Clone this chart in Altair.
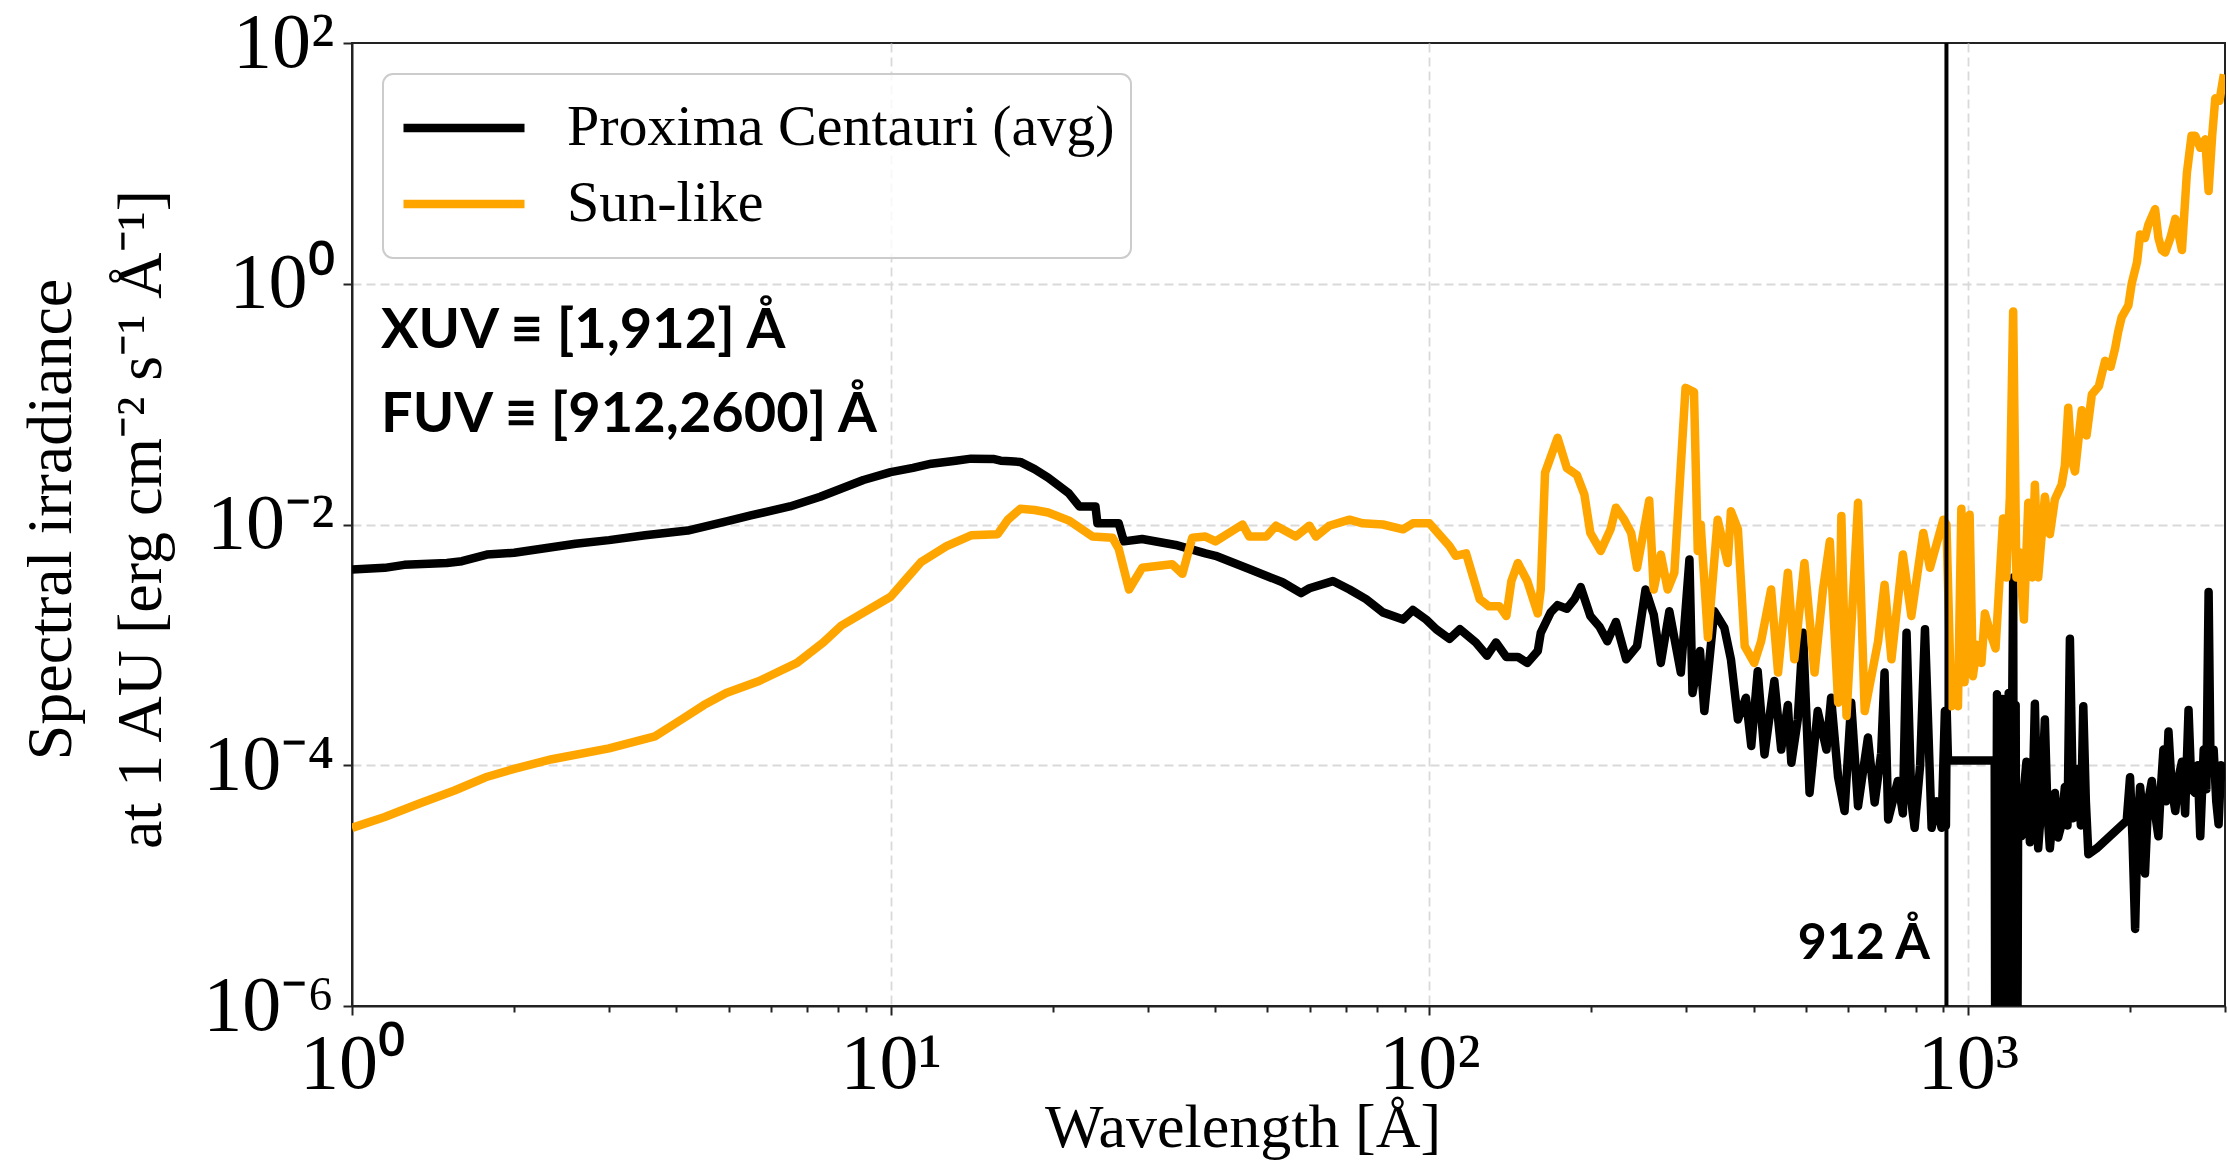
import altair as alt
import pandas as pd

# ---------------- data ----------------
series_names = ["Proxima Centauri (avg)", "Sun-like"]
series_colors = ["#000000", "#FFA500"]

proxima_wavelength = [
    1.0, 1.15, 1.25, 1.5, 1.6, 1.78, 2.0, 2.6, 3.0, 3.5, 4.2, 5.0, 5.5, 6.5, 7.4, 8.9, 10, 11, 11.9, 13.2,
    14.1, 15.5, 16.0, 16.7, 17.4, 18.5, 19.6, 21.4, 22.4, 24.0, 24.2, 26.5, 27.1, 29.3, 33.8, 38.4, 40.1,
    46.3, 53.4, 57.8, 59.9, 66.2, 71.1, 76.3, 82, 89.4, 93.2, 98.7, 103, 109, 114, 122, 128, 133, 139, 146,
    152, 159, 161, 168, 173, 180, 186, 191, 199, 207, 214, 222, 232, 243, 252, 261, 269, 279, 293, 304, 308,
    318, 324, 338, 353, 363, 374, 387, 396, 407, 419, 437, 450, 463, 470, 483, 494, 508, 526, 546, 557, 574,
    590, 607, 625, 652, 671, 690, 700, 711, 741, 757, 769, 785, 796, 815, 832, 856, 875, 893, 906, 910,
    913, 918, 1121, 1125, 1132, 1138, 1145, 1152, 1160, 1167, 1175, 1182, 1190, 1200, 1208, 1213, 1219,
    1226, 1232, 1239, 1256, 1270, 1284, 1303, 1318, 1331, 1350, 1370, 1389, 1405, 1419, 1450, 1470, 1492,
    1513, 1530, 1546, 1568, 1585, 1603, 1620, 1637, 1655, 1673, 1734, 1971, 1999, 2020, 2043, 2065, 2087,
    2110, 2131, 2160, 2194, 2225, 2257, 2280, 2306, 2330, 2356, 2390, 2426, 2460, 2496, 2530, 2567, 2600,
    2641, 2670, 2699, 2739, 2770, 2797, 2820, 2858, 2890, 2919, 2950, 2986,
]
proxima_log10_flux = [
    -2.374, -2.36, -2.335, -2.32, -2.305, -2.25, -2.235, -2.16, -2.13, -2.09, -2.05, -1.97, -1.925, -1.85,
    -1.77, -1.63, -1.565, -1.53, -1.495, -1.47, -1.453, -1.455, -1.47, -1.475, -1.48, -1.54, -1.61, -1.74,
    -1.85, -1.85, -1.99, -1.99, -2.14, -2.12, -2.17, -2.24, -2.26, -2.37, -2.48, -2.57, -2.53, -2.47, -2.54,
    -2.62, -2.73, -2.79, -2.71, -2.79, -2.87, -2.95, -2.87, -2.98, -3.09, -2.98, -3.10, -3.10, -3.15, -3.05,
    -2.90, -2.73, -2.67, -2.70, -2.62, -2.52, -2.76, -2.85, -2.97, -2.81, -3.12, -3.01, -2.54, -2.75, -3.15,
    -2.72, -3.23, -2.29, -3.40, -3.05, -3.55, -2.72, -2.86, -3.12, -3.62, -3.44, -3.84, -3.22, -3.91, -3.30,
    -3.87, -3.50, -3.98, -3.62, -2.90, -4.23, -3.55, -3.87, -3.44, -4.10, -4.38, -3.48, -4.34, -3.77, -4.31,
    -3.90, -3.23, -4.45, -4.13, -4.40, -2.90, -4.30, -4.52, -4.00, -2.87, -4.52, -4.30, -4.52, -3.55, -4.50,
    -3.55, -3.96, -3.96, -8.0, -3.41, -8.0, -3.50, -8.0, -3.45, -8.0, -3.45, -8.0, -3.40, -8.0, -3.50, -2.44,
    -8.0, -3.50, -8.0, -4.38, -4.59, -4.20, -3.97, -4.64, -4.30, -3.49, -4.69, -4.30, -3.62, -4.40, -4.69,
    -4.23, -4.60, -4.49, -4.18, -4.50, -2.95, -4.44, -4.20, -4.03, -4.50, -3.51, -4.30, -4.74, -4.69, -4.46,
    -4.10, -4.60, -5.36, -4.50, -4.18, -4.40, -4.90, -4.30, -4.13, -4.40, -4.59, -4.20, -3.87, -4.30, -3.72,
    -4.20, -4.38, -4.10, -3.97, -4.40, -3.54, -4.20, -4.23, -4.00, -4.59, -3.87, -4.20, -2.56, -4.00, -3.87,
    -4.30, -4.49, -4.00, -4.13,
]

sun_wavelength = [
    1.0, 1.15, 1.33, 1.55, 1.77, 2.0, 2.35, 3.0, 3.65, 4.09, 4.5, 4.95, 5.7, 6.7, 7.5, 8.1, 9.0, 10, 10.7,
    11.4, 12.7, 14.1, 15.8, 16.5, 17.4, 18.5, 19.6, 21.5, 23.7, 25.8, 26.5, 27.7, 29.3, 33.3, 34.8, 36.3,
    38.4, 40.1, 45.0, 46.3, 49.8, 51.9, 56.5, 59.9, 61.6, 65.2, 71.1, 75.2, 82, 89.4, 93.2, 100, 109, 112,
    117, 124, 129, 135, 139, 142, 146, 152, 159, 161, 164, 173, 180, 188, 194, 199, 208, 217, 222, 230, 237,
    243, 256, 261, 269, 277, 285, 299, 310, 315, 319, 329, 343, 358, 363, 374, 385, 401, 413, 431, 444, 463,
    476, 497, 519, 538, 554, 574, 582, 595, 625, 643, 681, 700, 721, 757, 785, 826, 850, 900, 912, 931, 952,
    958, 972, 985, 1007, 1021, 1040, 1059, 1075, 1100, 1125, 1140, 1162, 1178, 1196, 1213, 1230, 1245, 1270,
    1294, 1315, 1331, 1350, 1389, 1419, 1450, 1492, 1513, 1535, 1557, 1580, 1626, 1660, 1698, 1750, 1797,
    1840, 1875, 1900, 1928, 1985, 2013, 2060, 2087, 2131, 2162, 2225, 2257, 2290, 2323, 2375, 2426, 2496,
    2549, 2600, 2641, 2699, 2757, 2797, 2840, 2878, 2930, 2986,
]
sun_log10_flux = [
    -4.52, -4.43, -4.32, -4.21, -4.10, -4.03, -3.95, -3.86, -3.76, -3.62, -3.50, -3.40, -3.30, -3.15, -2.98,
    -2.84, -2.72, -2.60, -2.45, -2.31, -2.18, -2.09, -2.08, -1.96, -1.87, -1.88, -1.90, -1.97, -2.10, -2.11,
    -2.20, -2.54, -2.36, -2.33, -2.41, -2.11, -2.10, -2.14, -2.00, -2.10, -2.10, -2.01, -2.10, -2.01, -2.10,
    -2.01, -1.96, -1.99, -2.00, -2.04, -1.99, -1.99, -2.18, -2.26, -2.24, -2.62, -2.68, -2.68, -2.76, -2.47,
    -2.32, -2.47, -2.74, -2.54, -1.57, -1.28, -1.53, -1.59, -1.75, -2.07, -2.22, -2.04, -1.86, -1.96, -2.07,
    -2.36, -1.80, -2.54, -2.25, -2.54, -2.40, -0.865, -0.90, -2.22, -2.00, -2.94, -1.96, -2.32, -1.89, -2.04,
    -3.01, -3.15, -2.97, -2.54, -3.23, -2.40, -3.12, -2.32, -3.23, -2.54, -2.14, -3.48, -1.93, -3.59, -1.82,
    -3.55, -2.97, -2.50, -3.12, -2.25, -2.76, -2.07, -2.36, -1.96, -2.00, -3.51, -3.37, -3.51, -1.87, -3.31,
    -1.92, -3.26, -3.00, -3.15, -2.74, -2.90, -3.03, -2.59, -1.95, -2.44, -1.77, -0.23, -2.44, -2.23, -2.79,
    -1.82, -2.44, -1.67, -2.44, -1.77, -2.08, -1.79, -1.67, -1.51, -1.03, -1.46, -1.56, -1.05, -1.26, -0.92,
    -0.85, -0.64, -0.69, -0.54, -0.40, -0.28, -0.18, 0.00, 0.18, 0.41, 0.38, 0.49, 0.62, 0.38, 0.28, 0.26,
    0.38, 0.54, 0.28, 0.92, 1.23, 1.23, 1.13, 1.20, 0.77, 1.23, 1.54, 1.52, 1.74,
]

lyman_limit = [912]
lyman_label = ["912 Å"]
band_labels = ["XUV ≡ [1,912] Å", "FUV ≡ [912,2600] Å"]
x_title = ["Wavelength [Å]"]
y_title = ["Spectral irradiance", "at 1 AU [erg cm⁻² s⁻¹ Å⁻¹]"]

x_domain = [1, 3000]
y_domain = [1e-6, 1e2]
x_major = [1, 10, 100, 1000]
x_major_labels = ["10⁰", "10¹", "10²", "10³"]
x_ticks = [m * 10 ** e for e in range(4) for m in range(1, 10) if m * 10 ** e <= 3000]
y_major = [1e-6, 1e-4, 1e-2, 1, 1e2]
y_major_exp = [-6, -4, -2, 0, 2]
y_major_labels = ["10⁻⁶", "10⁻⁴", "10⁻²", "10⁰", "10²"]
y_grid_exp = [-4, -2, 0]

# ---------------- tables ----------------
rows = []
for w, f in zip(proxima_wavelength, proxima_log10_flux):
    rows.append({"wavelength": w, "flux": 10.0 ** f, "series": series_names[0]})
for w, f in zip(sun_wavelength, sun_log10_flux):
    rows.append({"wavelength": w, "flux": 10.0 ** f, "series": series_names[1]})
df = pd.DataFrame(rows)

x_label_expr = " : ".join(
    f"datum.value == {v} ? '{l}'" for v, l in zip(x_major, x_major_labels)
) + " : ''"
y_label_expr = " : ".join(
    f"abs(log(datum.value)/LN10 - ({e})) < 0.01 ? '{l}'" for e, l in zip(y_major_exp, y_major_labels)
) + " : ''"
major_test = "indexof([" + ",".join(str(v) for v in x_major) + "], datum.value) >= 0"
grid_test = "indexof([" + ",".join(str(v) for v in x_major[1:]) + "], datum.value) >= 0"
y_grid_test = " || ".join(f"abs(log(datum.value)/LN10 - ({e})) < 0.01" for e in y_grid_exp)

SERIF = "Liberation Serif"
SANS = "Lato"

x_enc = alt.X(
    "wavelength:Q",
    scale=alt.Scale(type="log", domain=x_domain, nice=False),
    axis=alt.Axis(
        values=x_ticks,
        labelExpr=x_label_expr,
        tickSize={"condition": {"test": major_test, "value": 9}, "value": 6},
        gridOpacity={"condition": {"test": grid_test, "value": 1}, "value": 0},
        labelFontSize=78,
        labelPadding=10,
        labelOverlap=False,
        labelFlush=False,
        title=None,
    ),
)
y_enc = alt.Y(
    "flux:Q",
    scale=alt.Scale(type="log", domain=y_domain, nice=False),
    axis=alt.Axis(
        values=y_major,
        labelExpr=y_label_expr,
        tickSize=9,
        gridOpacity={"condition": {"test": y_grid_test, "value": 1}, "value": 0},
        labelFontSize=78,
        labelPadding=9,
        labelOverlap=False,
        labelFlush=False,
        title=y_title,
        titleFontSize=64,
        titleLineHeight=90,
        titleX=-282,
        titleY=476,
        titleAngle=270,
        titleAlign="center",
        titleBaseline="alphabetic",
    ),
)

lines = alt.Chart(df).mark_line(clip=True, strokeJoin="round").encode(
    x=x_enc,
    y=y_enc,
    strokeWidth=alt.value(8.5),
    color=alt.Color(
        "series:N",
        scale=alt.Scale(domain=series_names, range=series_colors),
        legend=alt.Legend(
            title=None,
            orient="none",
            legendX=31,
            legendY=31,
            symbolType="stroke",
            symbolSize=14641,
            symbolStrokeWidth=8.5,
            labelFont=SERIF,
            labelFontSize=58,
            labelOffset=38,
            labelLimit=1000,
            labelBaseline="middle",
            labelColor="black",
            padding=16,
            rowPadding=0,
            clipHeight=76,
            fillColor="rgba(255,255,255,0.8)",
            strokeColor="#cccccc",
            cornerRadius=10,
        ),
    ),
    order="wavelength:Q",
)

limit_rule = alt.Chart(pd.DataFrame({"wavelength": lyman_limit})).mark_rule(
    color="black", strokeWidth=4
).encode(x=alt.X("wavelength:Q"))

limit_text = alt.Chart(pd.DataFrame({"label": lyman_label})).mark_text(
    font=SANS, fontWeight="bold", fontSize=50, align="right", baseline="alphabetic", color="black"
).encode(text="label:N", x=alt.value(1578), y=alt.value(916))

xuv_text = alt.Chart(pd.DataFrame({"label": band_labels[:1]})).mark_text(
    font=SANS, fontWeight="bold", fontSize=56, align="left", baseline="alphabetic", color="black"
).encode(text="label:N", x=alt.value(29), y=alt.value(305))

fuv_text = alt.Chart(pd.DataFrame({"label": band_labels[1:]})).mark_text(
    font=SANS, fontWeight="bold", fontSize=56, align="left", baseline="alphabetic", color="black"
).encode(text="label:N", x=alt.value(29), y=alt.value(389))

x_title_text = alt.Chart(pd.DataFrame({"label": x_title})).mark_text(
    font=SERIF, fontSize=62, align="center", baseline="alphabetic", color="black"
).encode(text="label:N", x=alt.value(891), y=alt.value(1104))

chart = (
    alt.layer(lines, limit_rule, limit_text, xuv_text, fuv_text, x_title_text)
    .properties(
        width=1873,
        height=963,
        autosize=alt.AutoSizeParams(type="none"),
        padding={"left": 352, "top": 43, "right": 3, "bottom": 162},
        background="white",
    )
    .configure_view(stroke="#222222", strokeWidth=2)
    .configure_axis(
        labelFont=SERIF,
        titleFont=SERIF,
        titleFontWeight="normal",
        labelColor="black",
        titleColor="black",
        domainColor="#222222",
        domainWidth=2,
        tickColor="#222222",
        tickWidth=2,
        gridColor="#d9d9d9",
        gridDash=[9, 5],
        gridWidth=1.8,
    )
    .configure_legend(strokeWidth=2)
)

chart.save("out.html", embed_options={"renderer": "svg", "actions": False})
